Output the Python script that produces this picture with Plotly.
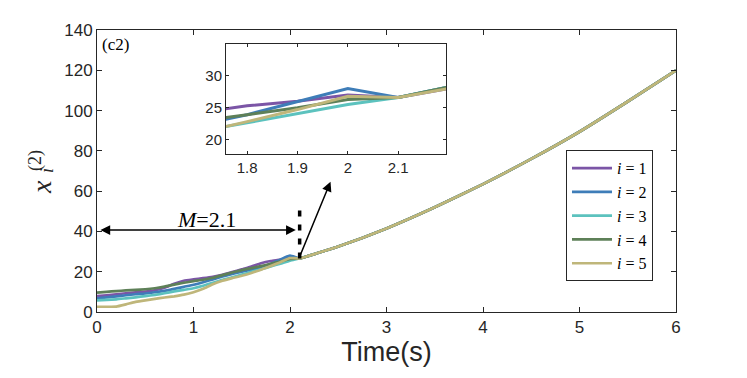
import plotly.graph_objects as go

# agent states x_i^(2)
t_head = [0.0, 0.1, 0.2, 0.3, 0.4, 0.5, 0.6, 0.7, 0.8, 0.9, 1.0,
          1.1, 1.2, 1.3, 1.4, 1.5, 1.6, 1.7, 1.8, 1.9, 2.0]
x1 = [7.9, 8.3, 8.8, 9.3, 9.7, 10.1, 10.8, 12.0, 14.0, 15.5, 16.2,
      16.8, 17.5, 18.5, 19.8, 21.2, 22.6, 24.2, 25.3, 26.0, 27.0]
x2 = [6.8, 7.3, 7.8, 8.3, 8.8, 9.2, 9.8, 10.5, 11.5, 12.5, 13.5,
      14.8, 16.2, 17.6, 18.9, 20.0, 21.0, 22.2, 23.9, 26.0, 28.0]
x3 = [5.8, 6.0, 6.3, 6.8, 7.3, 7.9, 8.5, 9.3, 10.2, 11.0, 11.8,
      13.0, 14.5, 16.0, 17.2, 18.6, 19.9, 21.2, 22.6, 24.0, 25.5]
x4 = [9.6, 10.0, 10.4, 10.7, 11.0, 11.3, 11.8, 12.6, 13.6, 14.5, 15.3,
      16.0, 17.0, 18.3, 19.6, 20.8, 21.8, 22.8, 23.9, 25.0, 26.3]
x5 = [2.6, 2.6, 2.7, 3.8, 5.0, 5.8, 6.5, 7.2, 7.8, 8.6, 9.8,
      11.5, 13.8, 15.5, 16.8, 18.0, 19.4, 21.0, 22.8, 24.7, 26.8]

# after M = 2.1 all agents coincide
t_tail = [2.1, 2.2, 2.5, 3.0, 3.5, 4.0, 4.5, 5.0, 5.5, 6.0]
x_tail = [26.6, 28.0, 32.5, 41.5, 52.0, 63.5, 76.0, 89.5, 104.5, 120.0]

agents = [x1, x2, x3, x4, x5]
colors = ['#7B55A6', '#3E7DB8', '#5CC2BE', '#5E8058', '#BFB67A']
M = 2.1

fig = go.Figure()

for k, (vals, c) in enumerate(zip(agents, colors)):
      tt = t_head + t_tail
      yy = vals + x_tail
      fig.add_trace(go.Scatter(
            x=tt, y=yy, mode='lines', name=f'<i>i</i> = {k+1}',
            line=dict(color=c, width=2.7, shape='spline', smoothing=0.5)
      ))
      fig.add_trace(go.Scatter(
            x=tt, y=yy, mode='lines', showlegend=False,
            line=dict(color=c, width=3), xaxis='x2', yaxis='y2'
      ))

axis_style = dict(showgrid=False, zeroline=False, showline=True, linecolor='#262626',
                  linewidth=1, mirror='ticks', ticks='inside', tickcolor='#262626')
sans = 'Liberation Sans, Arial'
serif = 'Liberation Serif, Times New Roman'

# page body has an 8px margin, so the figure box is shifted by 8px
fig.update_layout(
      width=747, height=378,
      margin=dict(l=89, r=79, t=22, b=74),
      plot_bgcolor='white', paper_bgcolor='white',
      xaxis=dict(range=[0, 6], dtick=1, ticklen=5, domain=[0, 1],
                 tickfont=dict(family=sans, size=17, color='#262626'),
                 title=dict(text='Time(s)', font=dict(family=sans, size=27, color='#262626'),
                            standoff=2), **axis_style),
      yaxis=dict(range=[0, 140], dtick=20, ticklen=5, domain=[0, 1],
                 tickfont=dict(family=sans, size=17, color='#262626'), **axis_style),
      xaxis2=dict(range=[1.758, 2.195], tickvals=[1.8, 1.9, 2.0, 2.1], ticktext=['1.8', '1.9', '2', '2.1'],
                  ticklen=3, domain=[0.2228, 0.6028], anchor='y2',
                  tickfont=dict(family=sans, size=15, color='#262626'), **axis_style),
      yaxis2=dict(range=[17.7, 35], tickvals=[20, 25, 30], ticklen=3,
                  domain=[0.56, 0.95], anchor='x2',
                  tickfont=dict(family=sans, size=15, color='#262626'), **axis_style),
      legend=dict(x=0.81, y=0.574, xanchor='left', yanchor='top', bgcolor='white',
                  bordercolor='#262626', borderwidth=1,
                  font=dict(family=serif, size=16, color='black'),
                  tracegroupgap=0, itemwidth=40),
      showlegend=True
)

# y-axis label x_i^(2), built from three rotated pieces
fig.add_annotation(xref='paper', yref='paper', x=(41 - 97) / 579, y=(312 - 187) / 282,
                   xanchor='center', yanchor='middle',
                   text='<i>x</i>', showarrow=False, textangle=-90,
                   font=dict(family=serif, size=28, color='#262626'))
fig.add_annotation(xref='paper', yref='paper', x=(36 - 97) / 579, y=(312 - 161) / 282,
                   xanchor='center', yanchor='middle',
                   text='(2)', showarrow=False, textangle=-90,
                   font=dict(family=serif, size=18, color='#262626'))
fig.add_annotation(xref='paper', yref='paper', x=(47 - 97) / 579, y=(312 - 171) / 282,
                   xanchor='center', yanchor='middle',
                   text='<i>i</i>', showarrow=False, textangle=-90,
                   font=dict(family=serif, size=18, color='#262626'))

# panel tag
fig.add_annotation(xref='paper', yref='paper', x=0.006, y=0.99, xanchor='left', yanchor='top',
                   text='(c2)', showarrow=False,
                   font=dict(family=serif, size=17, color='black'))

# double arrow 0 -> M
fig.add_annotation(x=2.06, y=40.7, ax=0.02, ay=40.7, xref='x', yref='y', axref='x', ayref='y',
                   text='', showarrow=True, arrowhead=2, startarrowhead=2, arrowside='end+start',
                   arrowsize=1.3, startarrowsize=1.3, arrowwidth=1.5, arrowcolor='black')
fig.add_annotation(x=1.13, y=46, xref='x', yref='y', text='<i>M</i>=2.1', showarrow=False,
                   font=dict(family=serif, size=22, color='black'))

# dashed marker at M
fig.add_shape(type='line', x0=M, x1=M, y0=26.5, y1=50.6, xref='x', yref='y',
              line=dict(color='black', width=3.5, dash='6px,8px'))

# arrow pointing to the zoomed inset
fig.add_annotation(x=2.42, y=64.7, ax=2.09, ay=26.3, xref='x', yref='y', axref='x', ayref='y',
                   text='', showarrow=True, arrowhead=2, arrowsize=1.3, arrowwidth=1.5,
                   arrowcolor='black')

fig.write_html("out.html")
